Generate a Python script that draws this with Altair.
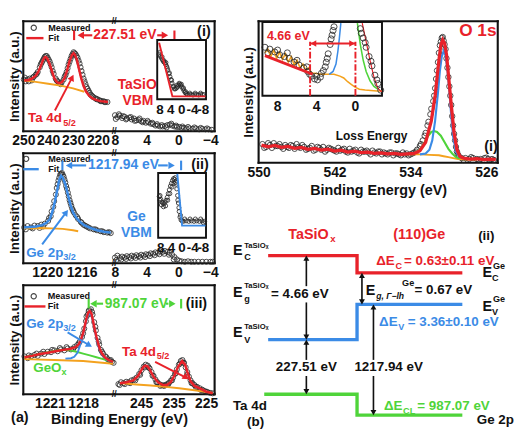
import altair as alt
import pandas as pd

FONT = "Liberation Sans"
RED = "#e8222a"
BLUE = "#3b8be6"
GREEN = "#4fd43a"
ORANGE = "#f4a21e"
INK = "#111111"
RING = "#262626"
BAR = "M0,-1L0,1"

# ======================= values =======================
# (a)(i) Ta 4d core level of TaSiOx: (binding energy eV, intensity a.u.)
I_MEAS = [(249.8,55),(249.0,53),(248.2,55),(247.4,56),(246.6,54),(245.8,58),(245.0,60),(244.2,63),(243.4,68),(242.6,73),
          (241.8,77),(241.0,80),(240.2,78),(239.4,74),(238.6,68),(237.8,61),(237.0,56),(236.2,53),(235.4,51),(234.6,52),
          (233.8,55),(233.0,60),(232.2,67),(231.4,74),(230.6,80),(229.8,84),(229.0,82),(228.2,78),(227.4,72),(226.6,64),
          (225.8,56),(225.0,50),(224.2,45),(223.4,41),(222.6,38),(221.8,36),(221.0,35),(220.2,34),(219.4,33),(218.6,32),
          (217.8,32),(217.0,31),(216.2,31),
          (249.4,57),(247.8,53),(246.2,57),(244.6,61),(243.0,71),(242.2,75),(241.4,79),(240.6,80),(239.8,76),(239.0,71),
          (238.2,64),(236.6,54),(235.0,50),(233.4,58),(232.6,63),(231.8,71),(231.0,77),(230.2,82),(229.4,83),(228.6,80),
          (227.8,75),(227.0,68),(226.2,60),(225.4,53),(224.6,47),(223.8,43),(223.0,39),(222.2,37),(220.6,34),(219.0,32),(217.4,31)]
I_FIT = [(249.6,54),(248.0,54.5),(246.5,56),(245.0,59),(244.0,63),(243.0,69),(242.2,75),(241.5,78.5),(241.0,79),(240.3,77),
         (239.5,72),(238.5,64),(237.5,56),(236.5,52),(235.5,51),(234.5,52),(233.5,56),(232.5,64),(231.5,74),(230.5,81),
         (229.8,83),(229.2,81),(228.5,76),(227.7,67),(226.8,57),(225.8,48),(224.8,42),(223.5,37.5),(222.0,34.5),(220.5,33),
         (219.0,32),(217.5,31.5),(216.0,31)]
I_BG = [(249.6,54),(245.0,52.5),(240.0,50.5),(235.0,48.5),(230.0,45.5),(225.5,42)]
# TaSiOx valence band (eV)
I_VB = [(8.0,17),(7.7,15),(7.4,16.5),(7.1,14),(6.8,15.5),(6.5,13.5),(6.2,14.5),(5.9,12.5),(5.6,13.5),(5.3,11.5),
        (5.0,12),(4.7,10.5),(4.4,11),(4.1,9),(3.8,9.5),(3.5,8),(3.2,7.5),(2.9,6),(2.6,6),(2.3,5),(2.0,5),(1.7,5.5),
        (1.4,6.5),(1.1,7),(0.8,6),(0.5,5),(0.2,4.5),(-0.1,4.5),(-0.4,3.5),(-0.7,3.5),(-1.0,3),(-1.4,3),(-1.8,2.5),
        (-2.2,3),(-2.6,2),(-3.0,2.5),(-3.4,2),(-3.8,2),(-4.2,1.5),
        (7.9,13),(7.5,18),(7.0,16),(6.6,12.5),(6.0,15),(5.5,11),(4.9,13.5),(4.5,9.5),(3.9,11),(3.3,9),(2.7,7.5),
        (2.1,6.5),(1.5,4),(0.9,8),(0.3,6),(-0.5,5),(-1.2,4.5),(-2.0,4),(-2.8,3.5),(-3.6,3)]
I_IN_MEAS = [(8.3,48),(7.9,46),(7.5,44),(7.1,42),(6.7,40),(6.3,39),(5.9,37),(5.5,35),(5.1,31),(4.7,27),(4.3,24),
             (3.9,21),(3.5,17),(3.1,14),(2.7,11),(2.3,11),(1.9,12),(1.5,13),(1.1,15),(0.7,16),(0.3,15),(-0.1,13),
             (-0.5,11),(-0.9,9),(-1.3,7),(-1.7,6),(-2.1,5),(-2.8,5),(-3.5,5),(-4.2,4.5),(-4.9,5),(-5.6,5),(-6.3,4.5),
             (-7.0,5),(-7.7,5),(-8.4,5),
             (8.0,50),(7.2,45),(6.5,41),(5.8,39),(5.3,33),(4.5,28),(3.7,20),(2.9,13),(1.7,15),(0.9,17),(0.1,16),
             (-0.7,12),(-1.5,8),(-3.0,6.5),(-5.0,6.5),(-7.0,6.5)]
I_IN_FIT = [(8.3,60),(3.4,3),(-8.8,3)]

# (a)(ii) Ge 2p3/2 core level of Ge
II_MEAS = [(1222.7,38),(1222.3,39.5),(1221.9,38),(1221.5,40),(1221.1,39.5),(1220.7,41),(1220.3,42),(1219.9,45),(1219.6,50),
           (1219.3,60),(1219.0,73),(1218.8,84),(1218.6,91),(1218.4,95),(1218.2,94),(1218.0,89),(1217.8,82),(1217.6,75),
           (1217.4,67),(1217.2,61),(1217.0,56),(1216.7,51),(1216.4,47),(1216.1,44),(1215.8,41),(1215.4,39),(1215.0,37),
           (1214.6,36),(1214.2,35),(1213.8,34),(1213.4,33),(1213.0,32.5),(1212.6,32),
           (1222.5,36),(1221.7,37),(1220.9,37.5),(1220.5,39),(1219.8,48),(1219.5,55),(1219.2,66),(1218.9,80),(1218.7,88),
           (1218.5,94),(1218.3,96),(1218.1,92),(1217.9,86),(1217.7,79),(1217.5,71),(1217.3,64),(1217.1,58),(1216.9,54),
           (1216.5,49),(1216.0,43),(1215.6,40),(1215.2,38),(1214.4,36),(1213.6,34),(1212.8,33)]
II_FIT = [(1222.7,38),(1222.0,38.5),(1221.3,39),(1220.6,40.5),(1220.1,43),(1219.7,47),(1219.4,55),(1219.1,66),(1218.8,80),
          (1218.6,89),(1218.4,93),(1218.2,91),(1217.9,84),(1217.6,73),(1217.3,62),(1217.0,54),(1216.6,48),(1216.2,44),
          (1215.7,40.5),(1215.0,37.5),(1214.2,35),(1213.4,33.5),(1212.6,32.5)]
II_BG = [(1222.7,37),(1221.0,37.5),(1219.5,37),(1218.2,36.5),(1217.0,35),(1216.4,34)]
II_VB = [(8.0,6),(7.7,8),(7.4,5.5),(7.1,7),(6.8,6),(6.5,7.5),(6.2,6.5),(5.9,8),(5.6,7),(5.3,8.5),(5.0,7.5),(4.7,9),
         (4.4,8),(4.1,9.5),(3.8,9),(3.5,10.5),(3.2,10),(2.9,11.5),(2.6,11),(2.3,12.5),(2.0,12),(1.7,13),(1.4,12),
         (1.1,11),(0.8,9),(0.5,6.5),(0.2,4),(-0.1,2.5),(-0.4,2),(-0.8,1.5),(-1.2,2),(-1.6,1.5),(-2.0,1.5),(-2.5,1.5),
         (-3.0,1.5),(-3.5,1.5),(-4.0,1.5),(-4.3,1.5),
         (7.8,3.5),(7.2,4),(6.6,4.5),(6.0,5),(5.4,5.5),(4.8,6),(4.2,6.5),(3.6,7.5),(3.0,8.5),(2.4,9.5),(1.8,10),(1.2,9),(0.6,4)]
II_IN_MEAS = [(8.6,44),(8.3,45),(8.0,41),(7.6,38),(7.2,37),(6.8,36),(6.4,38),(6.0,40),(5.6,43),(5.2,47),(4.8,51),
              (4.4,55),(4.0,58),(3.6,61),(3.2,63),(2.8,62),(2.4,59),(2.0,52),(1.7,45),(1.4,37),(1.1,28),(0.8,22),
              (0.4,19),(0.0,18),(-0.5,17.5),(-1.5,18),(-2.5,17.5),(-3.5,18),(-4.5,17.5),(-5.5,18),(-6.5,17.5),
              (-7.5,18),(-8.5,17.5),
              (8.4,40),(7.8,35),(7.0,33),(6.2,34),(5.4,40),(4.6,47),(3.8,54),(3.0,58),(2.6,64),(2.2,57),(1.6,40),
              (1.2,32),(0.6,24),(-1.0,20),(-3.0,20),(-5.0,20),(-7.0,20),(-8.0,16)]
II_IN_FIT = [(1.8,68),(0.0,13),(-8.8,13)]

# (a)(iii) TaSiOx/Ge interface: Ge 2p3/2 (left) and Ta 4d (right)
III_MEAS = [(1223.3,41),(1223.0,39),(1222.7,41),(1222.4,42.5),(1222.1,41.5),(1221.8,44),(1221.5,43.5),(1221.2,46),
            (1220.9,45.5),(1220.6,47.5),(1220.3,46.5),(1220.0,48.5),(1219.7,47.5),(1219.4,49.5),(1219.1,48.5),
            (1218.8,51),(1218.55,53),(1218.3,57),(1218.1,62),(1217.9,71),(1217.75,79),(1217.6,86),(1217.45,91),
            (1217.3,92),(1217.15,86),(1217.0,78),(1216.85,69),(1216.7,61),(1216.55,54),(1216.4,48),(1216.2,44),
            (1216.0,41),(1215.8,38),(1215.6,36.5),(1215.4,35),(1215.25,34),
            (1222.9,42),(1222.2,44),(1221.6,46),(1220.8,48),(1220.1,50),(1219.5,51),(1218.9,49),(1218.4,55),
            (1218.0,66),(1217.7,84),(1217.5,90),(1217.2,89),(1216.9,73),(1216.6,57),(1216.3,46),(1215.9,40),(1215.5,37)]
III_FIT = [(1223.3,40),(1222.6,41.5),(1221.9,43.5),(1221.2,45),(1220.5,46.5),(1219.8,48),(1219.2,49),(1218.7,51),
           (1218.4,54),(1218.2,59),(1218.0,66),(1217.85,74),(1217.7,82),(1217.55,88),(1217.4,90),(1217.25,87),
           (1217.1,79),(1216.95,70),(1216.8,62),(1216.65,55),(1216.5,49),(1216.3,44),(1216.0,39.5),(1215.7,37),(1215.3,35)]
III_GE = [(1219.6,38.5),(1219.1,39),(1218.8,40.5),(1218.5,45),(1218.3,52),(1218.1,60),(1217.9,70),(1217.7,80),
          (1217.55,86),(1217.4,88),(1217.25,85),(1217.1,78),(1216.95,69),(1216.8,60),(1216.6,51),(1216.4,45),
          (1216.1,40),(1215.8,37),(1215.4,35)]
III_GEOX = [(1223.3,40),(1222.3,42.5),(1221.4,45),(1220.5,47),(1219.9,48),(1219.2,47.5),(1218.6,46),(1218.0,44),
            (1217.4,42),(1216.8,40),(1216.2,38),(1215.6,36),(1215.3,35)]
III_BG = [(1223.3,38),(1220.6,37),(1218.0,36),(1215.3,33)]
III_R_MEAS = [(252.0,11),(251.2,13),(250.4,12),(249.6,13.5),(248.8,13),(248.0,15),(247.2,16),(246.4,18),(245.6,22),
              (244.9,26),(244.2,30),(243.6,32),(243.0,31),(242.4,28),(241.8,24),(241.2,20),(240.6,16),(240.0,13),
              (239.4,11),(238.8,10),(238.2,9.5),(237.6,10),(237.0,11),(236.4,12.5),(235.8,15),(235.2,18),(234.6,22),
              (234.0,27),(233.4,32),(232.8,36),(232.3,37),(231.8,34),(231.3,29),(230.8,24),(230.3,19),(229.8,15),
              (229.2,12),(228.6,10),(227.8,8),(227.0,6.5),(226.2,5),(225.4,3.5),(224.6,2.5),(223.8,1.5),(223.0,1),
              (251.6,10),(250.0,11),(248.4,12),(246.8,15),(245.3,21),(243.9,29),(242.7,29),(241.5,20),(240.3,13),
              (239.1,9),(237.9,9),(236.7,10.5),(235.5,15),(234.3,23),(233.1,33),(232.0,34),(230.9,21),(229.5,12),
              (228.2,8),(226.6,4.5),(225.0,2.5)]
III_R_FIT = [(251.5,12),(249.5,13),(247.4,15),(245.9,20),(244.8,27),(244.2,30),(243.6,31),(243.0,30),(242.4,27),
             (241.2,19),(239.8,13),(238.3,10),(237.1,10),(235.9,13),(234.8,20),(233.6,30),(232.4,36),(231.5,32),
             (230.6,22),(229.8,14),(228.6,9),(226.8,6),(225.1,3),(223.0,1)]
III_R_BG = [(251.5,12),(246.5,10.5),(242.0,9.5),(237.5,8),(233.3,6.5),(228.0,4),(223.0,1.5)]

# (b)(i) O 1s spectrum and its energy-loss onset
O1S_MEAS = [(549.6,20),(549.2,17),(548.8,19),(548.4,21),(548.0,18),(547.6,17),(547.2,19),(546.8,16),(546.4,18),(546.0,20),
            (545.6,16),(545.2,17),(544.8,15),(544.4,18),(544.0,14),(543.6,16),(543.2,17),(542.8,14),(542.4,15),(542.0,13),
            (541.6,16),(541.2,14),(540.8,12),(540.4,15),(540.0,13),(539.6,11),(539.2,14),(538.8,12),(538.4,11),(538.0,13),
            (537.6,10),(537.2,12),(536.8,11),(536.4,9),(536.0,11),(535.6,10),(535.2,9),(534.8,11),(534.4,10),(534.0,9),
            (549.4,16),(549.0,21),(548.6,16),(548.2,18),(547.8,20),(547.4,15),(547.0,17),(546.6,19),(546.2,15),(545.8,17),
            (545.4,19),(545.0,14),(544.6,16),(544.2,13),(543.8,17),(543.4,14),(543.0,12),(542.6,16),(542.2,14),(541.8,12),
            (541.4,13),(541.0,15),(540.6,11),(540.2,12),(539.8,14),(539.4,10),(539.0,12),(538.6,13),(538.2,9),(537.8,11),
            (537.4,12),(537.0,9),(536.6,10),(536.2,11),(535.8,8),(535.4,10),(535.0,8),(534.6,9),(534.2,8),
            (533.8,10),(533.6,11),(533.3,14),(533.0,18),(532.7,24),(532.4,32),(532.1,44),(531.8,58),(531.5,72),(531.3,90),
            (531.1,108),(530.9,126),(530.7,134),(530.5,131),(530.3,122),(530.1,102),(529.9,82),(529.7,62),(529.5,40),
            (529.3,24),(529.1,12),(528.9,7),(528.6,5),
            (533.4,12),(532.9,20),(532.5,29),(532.2,40),(531.9,52),(531.6,66),(531.4,80),(531.2,99),(531.0,118),(530.8,130),
            (530.6,135),(530.4,127),(530.2,112),(530.0,92),(529.8,72),(529.6,50),(529.4,31),(529.2,17),(529.0,9),
            (528.2,5),(527.8,4),(527.4,5),(527.0,4),(526.6,4),(526.2,5),(525.8,4),(525.4,4),(528.4,3),(527.6,6),(526.8,3),
            (526.0,5.5),(525.2,3)]
O1S_FIT = [(549.7,19),(549.0,17),(548.3,18.5),(547.6,16.5),(546.9,17.5),(546.2,15.5),(545.5,16.5),(544.8,14.5),(544.1,15.5),
           (543.4,13.5),(542.7,14.5),(542.0,12.5),(541.3,13.5),(540.6,11.5),(539.9,12.5),(539.2,11),(538.5,11.5),(537.8,10),
           (537.1,10.5),(536.4,9.5),(535.7,10),(535.0,9),(534.3,9.5),(533.6,10),(533.0,13),(532.4,22),(531.8,45),(531.4,72),
           (531.0,110),(530.8,126),(530.6,132),(530.4,128),(530.2,116),(530.0,95),(529.7,62),(529.4,32),(529.1,14),
           (528.8,7),(528.4,5),(527.7,4),(527.0,4.5),(526.3,3.5),(525.5,4),(525.0,3.5)]
O1S_LATTICE = [(533.0,9),(532.4,10),(532.0,14),(531.7,24),(531.4,45),(531.1,75),(530.9,98),(530.7,114),(530.5,120),
               (530.3,115),(530.1,100),(529.9,78),(529.7,50),(529.5,28),(529.2,12),(528.9,7),(528.5,5)]
O1S_SUB = [(534.5,9),(533.6,10),(533.0,14),(532.6,20),(532.2,28),(531.8,33),(531.5,34),(531.2,33),(530.8,29),(530.4,22),
           (530.0,15),(529.6,10),(529.2,6),(528.8,4.5)]
O1S_BG = [(535.0,9.5),(534.0,9),(533.0,9),(532.0,8.5),(531.0,8),(530.5,7),(530.0,6),(529.5,5),(529.0,4),(528.0,3.5),(527.0,3.5)]
# energy-loss inset (eV relative to the O 1s peak)
LOSS_MEAS = [(9.3,52),(8.8,50),(8.3,47),(7.8,44),(7.3,42),(6.8,40),(6.3,36),(5.8,33),(5.3,30),(4.9,26),(4.5,21),(4.2,18),
             (3.9,17),(3.6,20),(3.3,27),(3.0,36),(2.8,45),(2.6,55),(2.4,65),(2.2,74),(-0.5,72),(-0.8,62),(-1.1,52),
             (-1.4,42),(-1.7,32),(-2.0,22),(-2.3,13),(-2.6,6),
             (9.0,46),(8.0,49),(7.0,46),(6.0,38),(5.0,31),(4.7,23),(4.0,21),(3.5,24),(3.1,31),(2.9,40),(2.5,61),(2.3,70),
             (-0.6,67),(-1.0,57),(-1.6,37),(-2.2,17)]
LOSS_BG = [(9.3,46),(9.0,50),(8.7,42),(8.4,49),(8.1,40),(7.8,47),(7.5,39),(7.2,45),(6.9,36),(6.6,42),(6.3,33),(6.0,38),
           (5.7,30),(5.4,34),(5.1,27),(4.8,30),(4.5,24),(4.2,24),(3.5,23),(2.8,23),(2.2,23),(1.6,21),(1.2,19),(0.8,15),
           (0.4,12),(0.0,9),(-0.4,7),(-1.0,6),(-1.6,5.5),(-2.2,5),(-2.7,5)]
LOSS_LINE = [(9.3,43),(4.4,23)]
LOSS_LATTICE = [(2.7,23),(2.3,26),(2.0,34),(1.8,48),(1.65,62),(1.5,78)]
LOSS_SUB = [(-0.2,78),(-0.5,55),(-0.8,38),(-1.1,26),(-1.5,16),(-1.9,10),(-2.3,7)]
LOSS_FIT = [(-0.7,78),(-1.1,58),(-1.5,38),(-1.9,20),(-2.3,8),(-2.7,4)]
BANDGAP = 4.66

# (b)(ii) band alignment (schematic units 0-100)
BAND_EC = [(3.9,87.3),(40.2,87.3),(40.2,78.5),(83.2,78.5)]
BAND_EV = [(3.9,44.4),(40.2,44.4),(40.2,62.4),(83.2,62.4)]
BAND_CL = [(2.3,16.6),(40.2,16.6),(40.2,5.9),(83.2,5.9)]

P1_TICKS = [250, 240, 230, 220]
P2_TICKS = [1220, 1216]
P3_TICKS = [1221, 1218]
P3R_TICKS = [245, 235, 225]
VB_TICKS = [8, 4, 0, -4]
INSET_LABELS = ["8", "4", "0", "-4", "-8"]
LOSS_LABELS = ["8", "4", "0"]
O1S_TICKS = [550, 542, 534, 526]


# ======================= helpers =======================
def lin(dom):
    a, b = dom
    if a > b:
        return alt.Scale(domain=[b, a], reverse=True, nice=False, zero=False)
    return alt.Scale(domain=[a, b], nice=False, zero=False)


def expand(lo, hi, f0, f1):
    span = (hi - lo) / (f1 - f0)
    d0 = lo - f0 * span
    return [d0, d0 + span]


class P:
    def __init__(self, xdom, ydom, xaxis=None, yaxis=None):
        self.xdom, self.ydom = xdom, ydom
        self.xs, self.ys = lin(xdom), lin(ydom)
        self.xa, self.ya = xaxis, yaxis

    def enc(self, **kw):
        e = {"x": alt.X("x:Q", scale=self.xs, axis=self.xa),
             "y": alt.Y("y:Q", scale=self.ys, axis=self.ya)}
        e.update(kw)
        return e


def xaxis(values, title=None, title_x=None, title_pad=3):
    kw = dict(values=values, format="d", ticks=False, domain=False, grid=False,
              labelFontSize=14.5, labelFontWeight="bold", labelFont=FONT, labelColor=INK,
              labelPadding=3, labelFlush=False, labelOverlap=False)
    if title:
        kw.update(title=title, titleFontSize=15, titleFontWeight="bold", titleFont=FONT,
                  titleColor=INK, titlePadding=title_pad)
        if title_x is not None:
            kw.update(titleX=title_x, titleAlign="center")
    else:
        kw["title"] = None
    return alt.Axis(**kw)


YAX = alt.Axis(title="Intensity (a.u.)", labels=False, ticks=False, domain=False, grid=False,
               titleFontSize=14, titleFontWeight="bold", titleFont=FONT, titleColor=INK, titlePadding=2)


def line(p, pairs, color, w=2.0, dash=None):
    d = pd.DataFrame(pairs, columns=["x", "y"])
    d["i"] = range(len(d))
    kw = dict(color=color, strokeWidth=w)
    if dash:
        kw["strokeDash"] = dash
    return alt.Chart(d).mark_line(**kw).encode(**p.enc(order=alt.Order("i:Q")))


def rings(p, pairs, size=28, w=1.0):
    d = pd.DataFrame(pairs, columns=["x", "y"])
    return alt.Chart(d).mark_point(shape="circle", filled=False, color=RING, strokeWidth=w,
                                   size=size, opacity=0.85).encode(**p.enc())


def texts(p, rows, color=INK, size=14, align="left", style="normal"):
    d = pd.DataFrame(rows, columns=["x", "y", "t"])
    return alt.Chart(d).mark_text(color=color, fontSize=size, align=align, baseline="middle", font=FONT,
                                  fontWeight="bold", fontStyle=style).encode(**p.enc(text="t:N"))


def rules(p, rows, color, w=1.5, dash=None, cap="butt"):
    d = pd.DataFrame(rows, columns=["x", "y", "x2", "y2"])
    kw = dict(color=color, strokeWidth=w, strokeCap=cap)
    if dash:
        kw["strokeDash"] = dash
    return alt.Chart(d).mark_rule(**kw).encode(**p.enc(x2="x2:Q", y2="y2:Q"))


def box(p, x0, x1, y0, y1):
    d = pd.DataFrame([(x0, y0, x1, y1)], columns=["x", "y", "x2", "y2"])
    return alt.Chart(d).mark_rect(fill="white", stroke=INK, strokeWidth=2).encode(**p.enc(x2="x2:Q", y2="y2:Q"))


def syms(p, pairs, shape, color, size=50, angle=0, filled=True, w=1.5):
    d = pd.DataFrame(pairs, columns=["x", "y"])
    return alt.Chart(d).mark_point(shape=shape, filled=filled, color=color, size=size, angle=angle,
                                   opacity=1, strokeWidth=w).encode(**p.enc())


def frame(p, sides):
    (x0, x1), (y0, y1) = p.xdom, p.ydom
    rows = []
    if "t" in sides: rows.append((x0, y1, x1, y1))
    if "b" in sides: rows.append((x0, y0, x1, y0))
    if "l" in sides: rows.append((x0, y0, x0, y1))
    if "r" in sides: rows.append((x1, y0, x1, y1))
    return rules(p, rows, INK, 2.2, cap="square")


def arrow_left(p, y, xbar, xtri, xa, xb, color):
    return [syms(p, [(xbar, y)], BAR, color, size=100, filled=False, w=2.2),
            syms(p, [(xtri, y)], "triangle-left", color, size=60),
            rules(p, [(xa, y, xb, y)], color, 2.2)]


def arrow_right(p, y, xa, xb, xtri, xbar, color):
    return [rules(p, [(xa, y, xb, y)], color, 2.2),
            syms(p, [(xtri, y)], "triangle-right", color, size=60),
            syms(p, [(xbar, y)], BAR, color, size=100, filled=False, w=2.2)]


def pointer(p, x0, y0, x1, y1, angle, color):
    return [rules(p, [(x0, y0, x1, y1)], color, 2.0),
            syms(p, [(x1, y1)], "triangle-up", color, size=55, angle=angle)]


def breaks(p):
    xe = p.xdom[1]
    return texts(p, [(xe, p.ydom[1], "//"), (xe, p.ydom[0], "//")], INK, 9, align="center")


def with_inset(main, inset, w, h):
    return (alt.layer(alt.layer(*main), alt.layer(*inset))
            .resolve_scale(x="independent", y="independent")
            .properties(width=w, height=h))


WL, WR = 95, 105
H1, H2, H3 = 115, 115, 114

# ======================= (a)(i) =======================
p1l = P([250, 213.5], [0, 117], xaxis(P1_TICKS), YAX)
p1r = P([8.1, -4.55], [0, 117], xaxis(VB_TICKS), None)
in1 = P(expand(9, -9, 0.4286, 0.9143), expand(0, 63, 0.2906, 0.829))
s1l = alt.layer(
    frame(p1l, "tbl"), rings(p1l, I_MEAS), line(p1l, I_BG, ORANGE, 2), line(p1l, I_FIT, RED, 2.6),
    rings(p1l, [(245.8, 110)], size=30, w=1.2), rules(p1l, [(248.8, 99, 241.9, 99)], RED, 2.5),
    texts(p1l, [(240, 110, "Measured"), (240, 99, "Fit")], INK, 9.5),
    texts(p1l, [(248.1, 14, "Ta 4d")], RED, 14), texts(p1l, [(234.0, 9, "5/2")], RED, 9.5),
    *pointer(p1l, 237.3, 22, 230.4, 57, 27, RED),
    *arrow_left(p1l, 102, 229.6, 226.9, 225.8, 222.3, RED),
    texts(p1l, [(221.9, 102, "227.51 eV")], RED, 14.5),
    breaks(p1l),
).properties(width=WL, height=H1)
s1r = with_inset(
    [frame(p1r, "tbr"), rings(p1r, I_VB),
     texts(p1r, [(5.2, 49, "TaSiO"), (5.1, 32, "VBM")], RED, 14.5, align="center"),
     texts(p1r, [(-3.2, 106, "(i)")], INK, 15, align="center"),
     *arrow_right(p1r, 102, 2.68, 2.08, 1.71, 0.51, RED)],
    [box(in1, 9, -9, 0, 63), rings(in1, I_IN_MEAS, size=18), line(in1, I_IN_FIT, RED, 2),
     texts(in1, [(float(v), -12, v) for v in INSET_LABELS], INK, 14, align="center")],
    WR, H1)
row1 = alt.hconcat(s1l, s1r, spacing=0, bounds="flush")

# ======================= (a)(ii) =======================
p2l = P([1222.8, 1212.2], [0, 117], xaxis(P2_TICKS), YAX)
p2r = P([8.1, -4.55], [0, 117], xaxis(VB_TICKS), None)
in2 = P(expand(9, -9, 0.438, 0.9143), expand(0, 69, 0.2308, 0.8205))
s2l = alt.layer(
    frame(p2l, "tbl"), rings(p2l, II_MEAS), line(p2l, II_BG, ORANGE, 2), line(p2l, II_FIT, BLUE, 2.6),
    rings(p2l, [(1222.47, 111)], size=30, w=1.2), rules(p2l, [(1222.8, 100, 1221.0, 100)], BLUE, 2.5),
    texts(p2l, [(1219.9, 111, "Measured"), (1219.9, 100, "Fit")], INK, 9.5),
    texts(p2l, [(1222.47, 11, "Ge 2p")], BLUE, 14), texts(p2l, [(1218.14, 6, "3/2")], BLUE, 9.5),
    *pointer(p2l, 1220.6, 20, 1217.8, 54, 36, BLUE),
    *arrow_left(p2l, 104, 1218.24, 1217.47, 1217.13, 1215.47, BLUE),
    texts(p2l, [(1215.24, 104, "1217.94 eV")], BLUE, 14.5),
    breaks(p2l),
).properties(width=WL, height=H2)
s2r = with_inset(
    [frame(p2r, "tbr"), rings(p2r, II_VB),
     texts(p2r, [(5.3, 49, "Ge"), (5.3, 32, "VBM")], BLUE, 14.5, align="center"),
     texts(p2r, [(-2.7, 105, "(ii)")], INK, 15, align="center"),
     *arrow_right(p2r, 104, 2.56, 1.35, 0.87, -0.33, BLUE)],
    [box(in2, 9, -9, 0, 69), rings(in2, II_IN_MEAS, size=18), line(in2, II_IN_FIT, BLUE, 2),
     texts(in2, [(float(v), -11, v) for v in INSET_LABELS], INK, 14, align="center")],
    WR, H2)
row2 = alt.hconcat(s2l, s2r, spacing=0, bounds="flush")

# ======================= (a)(iii) =======================
p3l = P([1223.4, 1215.2], [0, 118], xaxis(P3_TICKS, "Binding Energy (eV)", (WL + WR) / 2, 2), YAX)
p3r = P([253.3, 222.4], [0, 118], xaxis(P3R_TICKS), None)
s3l = alt.layer(
    frame(p3l, "tbl"), rings(p3l, III_MEAS), line(p3l, III_BG, ORANGE, 2), line(p3l, III_GEOX, GREEN, 2),
    line(p3l, III_GE, BLUE, 2), line(p3l, III_FIT, RED, 2.6),
    rings(p3l, [(1222.46, 106)], size=30, w=1.2), rules(p3l, [(1223.3, 95, 1221.4, 95)], RED, 2.5),
    texts(p3l, [(1221.2, 106, "Measured"), (1221.2, 95, "Fit")], INK, 9.5),
    texts(p3l, [(1223.14, 76, "Ge 2p")], BLUE, 14), texts(p3l, [(1219.8, 71, "3/2")], BLUE, 9.5),
    *pointer(p3l, 1219.4, 67, 1217.45, 53, 121, BLUE),
    texts(p3l, [(1222.5, 28, "GeO")], GREEN, 14), texts(p3l, [(1219.95, 24, "x")], GREEN, 9.5),
    *arrow_left(p3l, 98, 1217.5, 1217.07, 1216.8, 1216.2, GREEN),
    texts(p3l, [(1216.05, 98, "987.07 eV")], GREEN, 14.5),
    texts(p3l, [(1224.5, -25, "(a)")], INK, 15),
    breaks(p3l),
).properties(width=WL, height=H3)
s3r = alt.layer(
    frame(p3r, "tbr"), rings(p3r, III_R_MEAS), line(p3r, III_R_BG, ORANGE, 2), line(p3r, III_R_FIT, RED, 2.6),
    texts(p3r, [(250.9, 46, "Ta 4d")], RED, 14), texts(p3r, [(240.2, 41, "5/2")], RED, 9.5),
    *pointer(p3r, 240.7, 35, 231.2, 18, 124, RED),
    texts(p3r, [(228.0, 98, "(iii)")], INK, 15, align="center"),
    *arrow_right(p3r, 98, 237.4, 236.6, 235.4, 232.7, GREEN),
).properties(width=WR, height=H3)
row3 = alt.hconcat(s3l, s3r, spacing=0, bounds="flush")

left_col = alt.vconcat(row1, row2, row3, spacing=2)

# ======================= (b)(i) O 1s =======================
po = P([550, 524.8], [0, 152], xaxis(O1S_TICKS, "Binding Energy (eV)", None, 5),
       alt.Axis(title="Intensity (a.u.)", labels=False, ticks=False, domain=False, grid=False,
                titleFontSize=14, titleFontWeight="bold", titleFont=FONT, titleColor=INK, titlePadding=3))
ino = P(expand(9.56, -2.73, 0.0159, 0.516), expand(0, 79, 0.4737, 0.9934))
o1s = with_inset(
    [frame(po, "tblr"), rings(po, O1S_MEAS, size=32), line(po, O1S_BG, ORANGE, 2), line(po, O1S_SUB, GREEN, 2.2),
     line(po, O1S_LATTICE, BLUE, 2.2), line(po, O1S_FIT, RED, 3.4),
     texts(po, [(526.9, 141, "O 1s")], RED, 18, align="center"),
     texts(po, [(538.1, 29, "Loss Energy")], INK, 12.5, align="center"),
     texts(po, [(525.5, 18, "(i)")], INK, 15, align="center")],
    [box(ino, 9.56, -2.73, 0, 79),
     line(ino, LOSS_BG, ORANGE, 1.6), line(ino, LOSS_LATTICE, BLUE, 1.6), line(ino, LOSS_SUB, GREEN, 1.6),
     line(ino, LOSS_FIT, RED, 1.2), rings(ino, LOSS_MEAS, size=40, w=1.0), line(ino, LOSS_LINE, RED, 3),
     rules(ino, [(BANDGAP, 0, BANDGAP, 58), (0, 0, 0, 58)], RED, 2, dash=[7, 2, 2, 2]),
     rules(ino, [(BANDGAP, 56, 0, 56)], RED, 2),
     syms(ino, [(BANDGAP - 0.35, 56)], "triangle-left", RED, size=45),
     syms(ino, [(0.35, 56)], "triangle-right", RED, size=45),
     texts(ino, [(6.9, 64, "4.66 eV")], RED, 13, align="center"),
     texts(ino, [(float(v), -12, v) for v in LOSS_LABELS], INK, 14.5, align="center")],
    250, 148)

# ======================= (b)(ii) band alignment =======================
pb = P([0, 100], [0, 100])
heads_up = [(19.5, 86.0), (19.5, 43.1), (42.2, 77.2), (46.9, 61.1)]
heads_dn = [(19.5, 45.7), (19.5, 17.9), (42.2, 63.7), (46.9, 7.2)]
band = alt.layer(
    line(pb, BAND_EC, RED, 3.5), line(pb, BAND_EV, BLUE, 3.5), line(pb, BAND_CL, GREEN, 3.5),
    rules(pb, [(19.5, 86.0, 19.5, 71.7), (19.5, 63.4, 19.5, 45.7), (19.5, 43.1, 19.5, 34.1),
               (19.5, 25.9, 19.5, 17.9), (42.2, 77.2, 42.2, 63.7), (46.9, 61.1, 46.9, 34.1),
               (46.9, 25.9, 46.9, 7.2)], INK, 1.7),
    syms(pb, heads_up, "triangle-up", INK, size=38), syms(pb, heads_dn, "triangle-down", INK, size=38),
    texts(pb, [(-10.5, 89.8, "E"), (-10.5, 68.8, "E"), (-10.5, 48.3, "E"), (43.75, 69.8, "E"),
               (91.4, 78.6, "E"), (91.4, 61.4, "E")], INK, 15),
    texts(pb, [(-5.9, 92.2, "TaSiOₓ"), (-5.9, 71.7, "TaSiOₓ"), (-5.9, 50.7, "TaSiOₓ")], INK, 8),
    texts(pb, [(58.6, 73.2, "Ge"), (95.7, 82.0, "Ge"), (95.7, 65.3, "Ge")], INK, 9.5),
    texts(pb, [(-5.9, 86.3, "C"), (-5.9, 64.9, "g"), (-5.9, 44.4, "V"), (95.3, 75.7, "C"),
               (95.3, 58.3, "V")], INK, 9.5),
    texts(pb, [(48.0, 66.8, "g, Γ−lh")], INK, 9, style="italic"),
    texts(pb, [(5.1, 67.8, "= 4.66 eV"), (63.7, 69.8, "= 0.67 eV"), (-10.5, 10.7, "Ta 4d"),
               (89.1, 3.4, "Ge 2p"), (-4.7, 2.4, "(b)")], INK, 14),
    texts(pb, [(19.5, 30.2, "227.51 eV"), (53.1, 30.2, "1217.94 eV"), (93.0, 97.0, "(ii)")], INK, 14,
          align="center"),
    texts(pb, [(12.1, 98.0, "TaSiO")], RED, 15), texts(pb, [(29.3, 95.6, "x")], RED, 10),
    texts(pb, [(65.6, 98.0, "(110)Ge")], RED, 15, align="center"),
    texts(pb, [(48.0, 84.6, "ΔE"), (59.4, 84.6, "= 0.63±0.11 eV")], RED, 14),
    texts(pb, [(55.9, 82.0, "C")], RED, 9.5),
    texts(pb, [(49.2, 53.2, "ΔE"), (60.9, 53.2, "= 3.36±0.10 eV")], BLUE, 14),
    texts(pb, [(57.0, 50.6, "V")], BLUE, 9.5),
    texts(pb, [(51.2, 10.7, "ΔE"), (64.8, 10.7, "= 987.07 eV")], GREEN, 14),
    texts(pb, [(59.0, 8.1, "CL")], GREEN, 9.5),
).properties(width=256, height=205)

right_col = alt.vconcat(o1s, band, spacing=31)

chart = (alt.hconcat(left_col, right_col, spacing=15)
         .properties(padding=0)
         .configure_view(stroke=None)
         .configure_axis(grid=False))

chart.save("out.html", embed_options={"renderer": "svg", "actions": False})
